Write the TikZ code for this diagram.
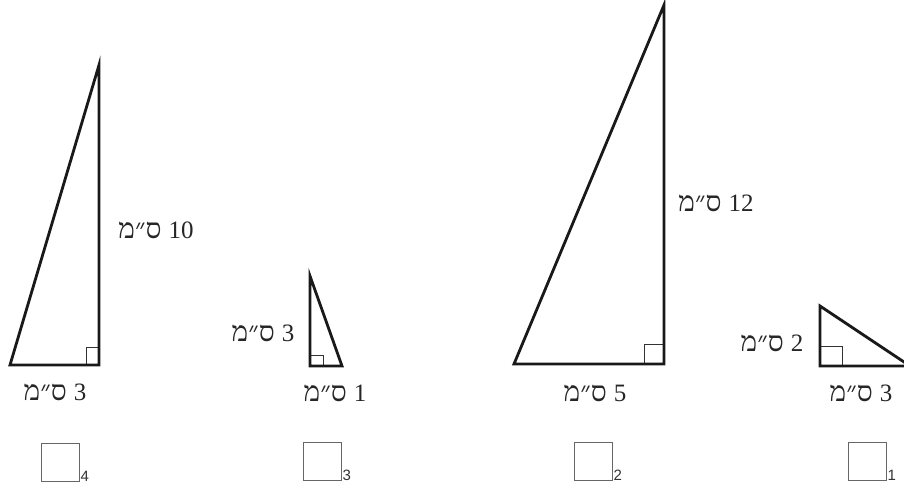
\documentclass[tikz,border=0pt]{standalone}
\usepackage{fontspec}
\setmainfont{Liberation Serif}
\newfontfamily\hebfont[Script=Hebrew,Scale=1.12]{Liberation Serif}
\newfontfamily\smallsans{Liberation Sans}
\TeXXeTstate=1
\newcommand{\cmlabel}[1]{\beginR\beginL #1\endL\hspace{7pt}{\hebfont ס״מ}\endR}
\begin{document}
\begin{tikzpicture}[x=1pt,y=-1pt,
  tri/.style={line width=2.8pt,line join=miter,draw=black!90},
  rightang/.style={line width=0.9pt,draw=black!80},
  lbl/.style={font=\fontsize{25}{27}\selectfont,inner sep=0pt,text=black!85},
  ansbox/.style={draw=black!60,line width=0.9pt,minimum width=38pt,minimum height=38pt,inner sep=0pt},
  sub/.style={font=\smallsans\fontsize{15}{15}\selectfont,inner sep=0pt,anchor=south west,text=black!80}]
\useasboundingbox (0,0) rectangle (904,485);
% triangle 4 (left)
\coordinate (a1) at (10,365);
\coordinate (b1) at (99,365);
\coordinate (c1) at (99,65);
\draw[rightang] (86,365) -- (86,347) -- (99,347);
\draw[tri] (a1) -- (b1) -- (c1) -- cycle;
\node[lbl] (l1a) at (156,230) {\cmlabel{10}};
\node[lbl] (l1b) at (55,392) {\cmlabel{3}};
% triangle 3
\coordinate (a2) at (310,366);
\coordinate (b2) at (342,366);
\coordinate (c2) at (310,276);
\draw[rightang] (323,366) -- (323,355) -- (310,355);
\draw[tri] (a2) -- (b2) -- (c2) -- cycle;
\node[lbl] (l2a) at (263,333) {\cmlabel{3}};
\node[lbl] (l2b) at (335,393) {\cmlabel{1}};
% triangle 2
\coordinate (a3) at (514,364);
\coordinate (b3) at (664,364);
\coordinate (c3) at (664,5);
\draw[rightang] (644,364) -- (644,344) -- (664,344);
\draw[tri] (a3) -- (b3) -- (c3) -- cycle;
\node[lbl] (l3a) at (716,203) {\cmlabel{12}};
\node[lbl] (l3b) at (595,393) {\cmlabel{5}};
% triangle 1 (right)
\coordinate (a4) at (820,366);
\coordinate (b4) at (910,366);
\coordinate (c4) at (820,306);
\draw[rightang] (820,346) -- (842,346) -- (842,366);
\draw[tri] (a4) -- (b4) -- (c4) -- cycle;
\node[lbl] (l4a) at (772,343) {\cmlabel{2}};
\node[lbl] (l4b) at (861,393) {\cmlabel{3}};
% answer boxes
\node[ansbox] (s4) at (60,462) {};
\node[sub] (n4) at ([xshift=1pt]s4.south east) {4};
\node[ansbox] (s3) at (322,461) {};
\node[sub] (n3) at ([xshift=1pt]s3.south east) {3};
\node[ansbox] (s2) at (593,461) {};
\node[sub] (n2) at ([xshift=1pt]s2.south east) {2};
\node[ansbox] (s1) at (867,461) {};
\node[sub] (n1) at ([xshift=1pt]s1.south east) {1};
\end{tikzpicture}
\end{document}
